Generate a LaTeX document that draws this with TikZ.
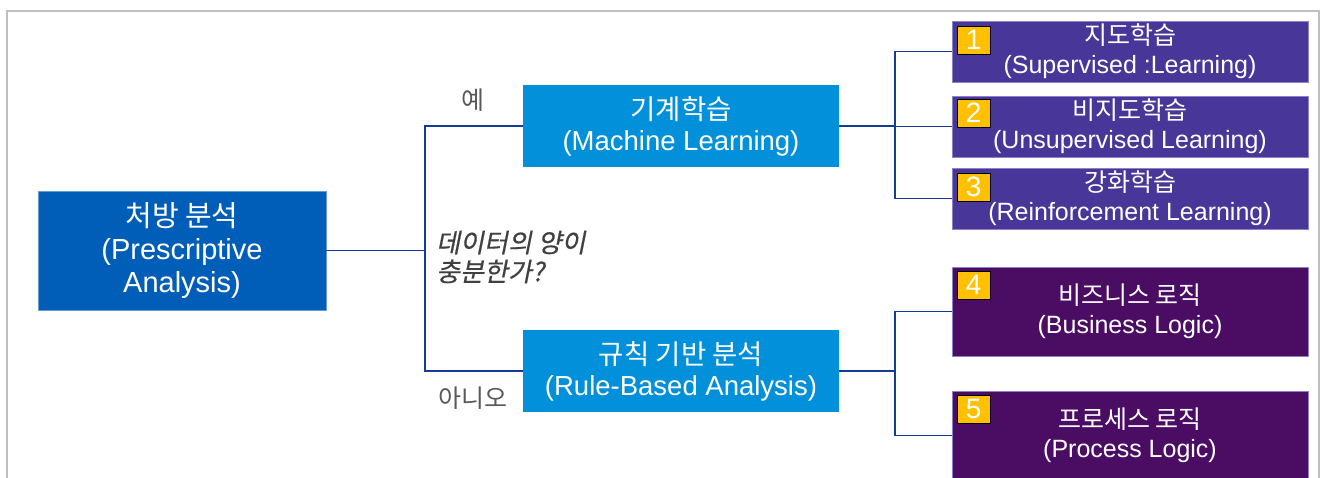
\documentclass[tikz,border=0pt]{standalone}
\usepackage{fontspec}
\setmainfont{Liberation Sans}
\newfontfamily\ko{Noto Sans CJK KR}
\newfontfamily\qfont[FakeSlant=0.2,FakeBold=0.5]{Noto Sans CJK KR}
\definecolor{mainblue}{RGB}{0,94,184}
\definecolor{lightblue}{RGB}{2,144,218}
\definecolor{purpA}{RGB}{72,54,152}
\definecolor{purpB}{RGB}{75,12,100}
\definecolor{purpedge}{RGB}{140,130,200}
\definecolor{connblue}{RGB}{20,60,150}
\definecolor{badgey}{RGB}{255,192,0}
\definecolor{framegray}{RGB}{191,191,191}
\definecolor{labgray}{RGB}{89,89,89}
\definecolor{qgray}{RGB}{64,64,64}
\tikzset{
  framestyle/.style={draw=framegray,line width=1.5pt},
  mainbox/.style={fill=mainblue,draw=mainblue!60!white,line width=0.8pt,text=white,align=center,inner sep=0pt,
    font=\fontsize{29}{33}\selectfont},
  midbox/.style={fill=lightblue,text=white,align=center,inner sep=0pt,minimum width=316pt,minimum height=82pt,
    font=\fontsize{27.5}{31}\selectfont},
  pbox/.style={draw=purpedge,line width=0.8pt,text=white,align=center,inner sep=0pt,minimum width=356pt,
    font=\fontsize{25}{29}\selectfont},
  badge/.style={fill=badgey,draw=black,line width=1.2pt,text=white,inner sep=0pt,minimum width=33pt,minimum height=28pt,
    anchor=north west,font=\fontsize{28}{28}\selectfont},
  conn/.style={draw=connblue,line width=1.8pt},
  lab/.style={text=labgray,font=\ko\fontsize{25}{28}\selectfont},
}
\begin{document}
\begin{tikzpicture}[x=1pt,y=-1pt]
\useasboundingbox (0,0) rectangle (1323,478);
\clip (0,0) rectangle (1323,478);
\draw[framestyle] (7,490) -- (7,11) -- (1319,11) -- (1319,490);

\node[mainbox,minimum width=288pt,minimum height=119pt] (main) at (182,250.5) {{\ko 처방 분석}\\(Prescriptive\\Analysis)};
\node[midbox] (ml) at (681,126) {{\ko 기계학습}\\(Machine Learning)};
\node[midbox] (rb) at (681,371) {{\ko 규칙 기반 분석}\\(Rule-Based Analysis)};

\node[pbox,fill=purpA,minimum height=61pt] (p1) at (1130,51.5) {{\ko 지도학습}\\(Supervised :Learning)};
\node[pbox,fill=purpA,minimum height=61pt] (p2) at (1130,126.5) {{\ko 비지도학습}\\(Unsupervised Learning)};
\node[pbox,fill=purpA,minimum height=61pt] (p3) at (1130,198.5) {{\ko 강화학습}\\(Reinforcement Learning)};
\node[pbox,fill=purpB,minimum height=89pt] (p4) at (1130,311.5) {{\ko 비즈니스 로직}\\(Business Logic)};
\node[pbox,fill=purpB,minimum height=89pt] (p5) at (1130,435.5) {{\ko 프로세스 로직}\\(Process Logic)};

\node[badge] (b1) at ([xshift=5pt,yshift=-5pt]p1.north west) {1};
\node[badge] (b2) at ([xshift=5pt,yshift=-3pt]p2.north west) {2};
\node[badge] (b3) at ([xshift=5pt,yshift=-5pt]p3.north west) {3};
\node[badge] (b4) at ([xshift=5pt,yshift=-4pt]p4.north west) {4};
\node[badge] (b5) at ([xshift=5pt,yshift=-4pt]p5.north west) {5};

\coordinate (j1) at (425,250.5);
\coordinate (j2) at (895,126);
\coordinate (j3) at (895,371);

\draw[conn] (main.east) -- (j1);
\draw[conn] (j1) |- (ml.west);
\draw[conn] (j1) |- (rb.west);
\draw[conn] (ml.east) -- (j2);
\draw[conn] (j2) |- (p1.west);
\draw[conn] (j2) |- (p2.west);
\draw[conn] (j2) |- (p3.west);
\draw[conn] (rb.east) -- (j3);
\draw[conn] (j3) |- (p4.west);
\draw[conn] (j3) |- (p5.west);

\node[lab] (yes) at (473,100) {예};
\node[lab] (no) at (473,398) {아니오};
\node[anchor=west,align=left,text=qgray,inner sep=0pt,font=\qfont\fontsize{26}{29}\selectfont] (q) at (436,257) {데이터의 양이\\충분한가?};
\end{tikzpicture}
\end{document}
